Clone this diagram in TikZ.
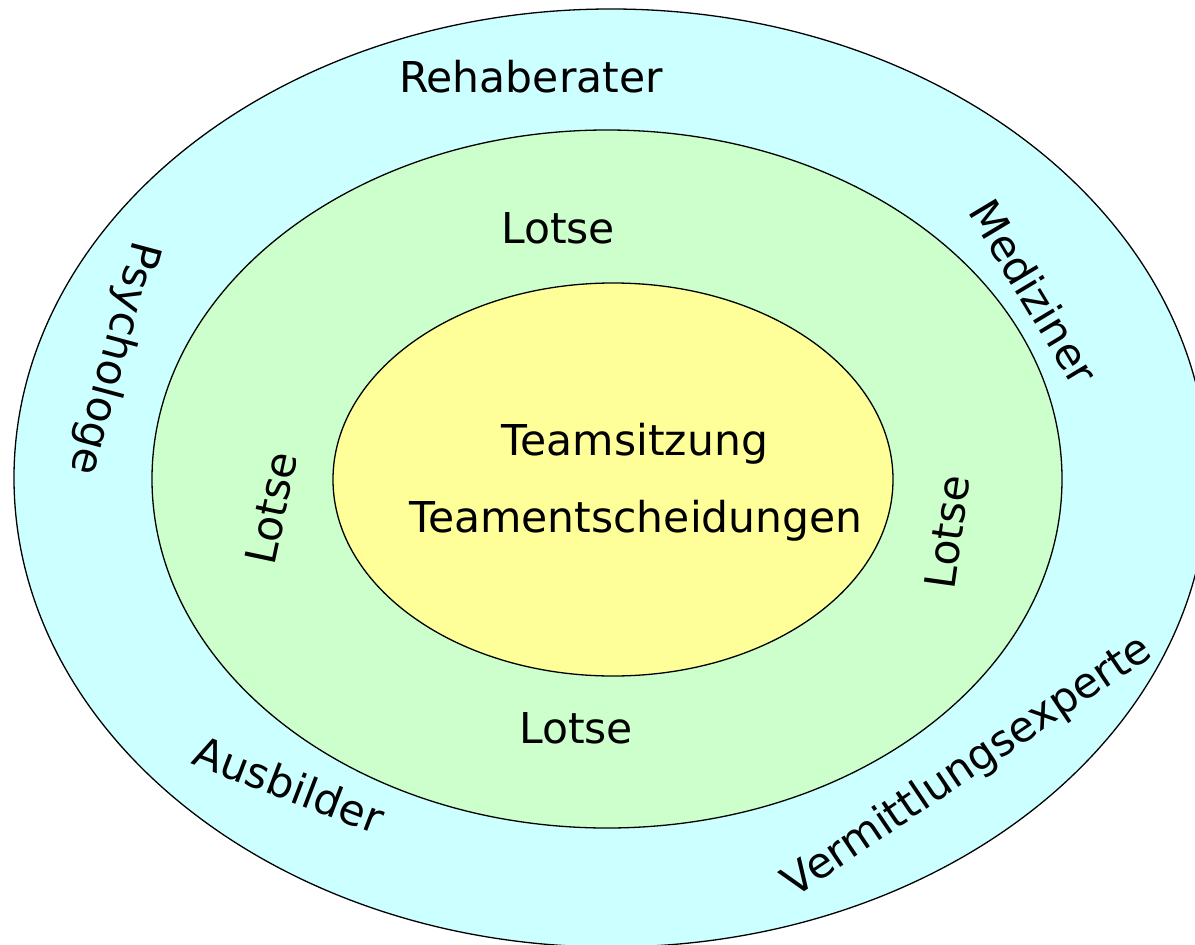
\documentclass[tikz,border=0pt]{standalone}
\usepackage{fontspec}
\setmainfont{DejaVu Sans}
\usetikzlibrary{shapes.geometric}
\definecolor{ringcyan}{HTML}{CCFFFF}
\definecolor{ringgreen}{HTML}{CCFFCC}
\definecolor{coreyellow}{HTML}{FFFF99}
\tikzset{
  ring/.style={ellipse, draw=black, line width=1.3bp, inner sep=0pt},
  lbl/.style={font=\fontsize{42.5bp}{49bp}\selectfont, inner sep=0pt, anchor=base},
  tilted/.style={font=\fontsize{42.5bp}{49bp}\selectfont, inner sep=0pt,
    text height=31bp, text depth=0pt, anchor=center}
}
\begin{document}
\begin{tikzpicture}[x=1bp, y=-1bp]
  \useasboundingbox (0,0) rectangle (1195,945);
  \clip (0,0) rectangle (1195,945);
  % nested rings
  \node[ring, fill=ringcyan, minimum width=1194bp, minimum height=938bp] (outer) at (611,478) {};
  \node[ring, fill=ringgreen, minimum width=910bp, minimum height=698bp] (middle) at (607,479) {};
  \node[ring, fill=coreyellow, minimum width=560bp, minimum height=393bp] (inner) at (613,479.5) {};
  % core
  \node[lbl] (sitzung) at (635,455) {Teamsitzung};
  \node[lbl] (entscheid) at (636,532) {Teamentscheidungen};
  % guides in the middle ring
  \node[lbl] (lotseN) at (558,243) {Lotse};
  \node[lbl] (lotseS) at (576,743) {Lotse};
  \node[tilted, rotate=78] (lotseW) at (271,508) {Lotse};
  \node[tilted, rotate=82] (lotseE) at (947,532) {Lotse};
  % experts in the outer ring
  \node[lbl] (reha) at (531,92) {Rehaberater};
  \node[tilted, rotate=-105] (psych) at (117,359) {Psychologe};
  \node[tilted, rotate=-59] (medi) at (1034,292) {Mediziner};
  \node[tilted, rotate=-21] (ausb) at (289,785) {Ausbilder};
  \node[tilted, rotate=34] (verm) at (966,764) {Vermittlungsexperte};
\end{tikzpicture}
\end{document}
